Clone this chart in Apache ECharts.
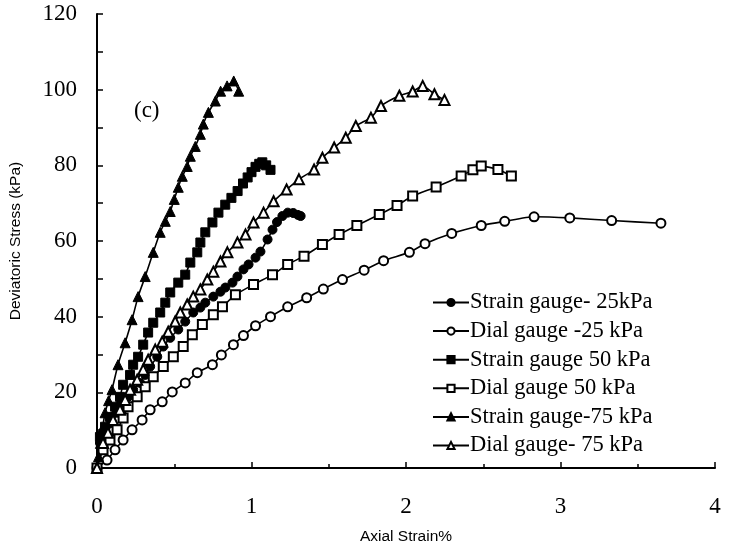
<!DOCTYPE html>
<html>
<head>
<meta charset="utf-8">
<script src="https://cdn.jsdelivr.net/npm/echarts@6/dist/echarts.min.js"></script>
<style>
  html, body { margin: 0; padding: 0; background: #fff; }
  #stress_con { width: 730px; height: 553px; }
</style>
</head>
<body>
<div id="stress_con"></div>
<script>
// axial strain % / deviatoric stress kPa
const seriesNames = ['Strain gauge- 25kPa', 'Dial gauge -25 kPa', 'Strain gauge 50 kPa',
  'Dial gauge 50 kPa', 'Strain gauge-75 kPa', 'Dial gauge- 75 kPa'];

const strain25 = [[0, 0], [0.019, 6.6], [0.052, 9.3], [0.097, 11.9], [0.13, 14.6], [0.169, 17.2],
  [0.201, 18.8], [0.234, 20.7], [0.279, 22.5], [0.312, 24.6], [0.344, 26.8], [0.39, 29.4],
  [0.429, 32.1], [0.474, 34.4], [0.526, 36.6], [0.571, 38.7], [0.623, 41.1], [0.669, 42.4],
  [0.701, 43.7], [0.753, 45.3], [0.799, 46.6], [0.831, 47.7], [0.877, 49.0], [0.909, 50.6],
  [0.948, 52.5], [0.981, 53.8], [1.026, 55.6], [1.058, 57.2], [1.104, 60.4], [1.136, 63.0],
  [1.165, 65.0], [1.2, 66.6], [1.235, 67.5], [1.27, 67.4], [1.3, 66.9], [1.318, 66.6]];

const dial25 = [[0, 0], [0.065, 2.1], [0.117, 4.8], [0.169, 7.4], [0.227, 10.1], [0.292, 12.7],
  [0.344, 15.4], [0.422, 17.5], [0.487, 20.1], [0.571, 22.5], [0.649, 25.2], [0.747, 27.3],
  [0.805, 29.9], [0.883, 32.6], [0.948, 35.0], [1.026, 37.6], [1.123, 40.0], [1.234, 42.6],
  [1.357, 45.0], [1.465, 47.3], [1.589, 49.8], [1.729, 52.3], [1.855, 54.8], [2.022, 57.0],
  [2.123, 59.3], [2.296, 62.0], [2.487, 64.1], [2.639, 65.2], [2.829, 66.4], [3.06, 66.1],
  [3.331, 65.4], [3.65, 64.7]];

const strain50 = [[0, 0], [0.019, 8.2], [0.052, 10.9], [0.084, 13.5], [0.117, 16.2], [0.149, 18.8],
  [0.169, 22.0], [0.214, 24.6], [0.234, 27.3], [0.266, 29.4], [0.299, 32.6], [0.331, 35.8],
  [0.364, 38.4], [0.409, 41.1], [0.442, 43.7], [0.474, 46.4], [0.526, 49.0], [0.571, 51.1],
  [0.604, 54.3], [0.649, 57.0], [0.669, 59.6], [0.701, 62.3], [0.747, 64.9], [0.786, 67.5],
  [0.83, 69.6], [0.87, 71.4], [0.91, 73.2], [0.945, 75.2], [0.975, 76.8], [1.0, 78.2],
  [1.026, 79.6], [1.05, 80.4], [1.07, 80.8], [1.095, 80.0], [1.123, 78.8]];

const dial50 = [[0, 0], [0.039, 4.8], [0.084, 7.4], [0.13, 10.1], [0.169, 13.2], [0.201, 16.2],
  [0.26, 18.8], [0.312, 21.5], [0.364, 24.1], [0.429, 26.8], [0.494, 29.4], [0.558, 32.1],
  [0.617, 35.2], [0.682, 37.9], [0.753, 40.5], [0.812, 42.6], [0.896, 45.8], [1.013, 48.5],
  [1.136, 51.1], [1.234, 53.8], [1.34, 56.0], [1.459, 59.1], [1.567, 61.7], [1.682, 64.1],
  [1.827, 67.0], [1.942, 69.4], [2.043, 71.9], [2.195, 74.3], [2.357, 77.2], [2.433, 78.8],
  [2.487, 79.8], [2.595, 78.9], [2.682, 77.2]];

const strain75 = [[0, 0], [0.01, 3.0], [0.022, 6.5], [0.036, 10.5], [0.052, 14.6], [0.075, 17.8],
  [0.097, 20.7], [0.136, 27.3], [0.182, 33.1], [0.227, 39.2], [0.266, 45.3], [0.312, 50.6],
  [0.364, 57.0], [0.409, 62.3], [0.442, 65.2], [0.474, 67.8], [0.5, 71.0], [0.526, 74.2],
  [0.552, 77.1], [0.584, 79.7], [0.604, 82.4], [0.636, 85.0], [0.669, 88.2], [0.688, 90.9],
  [0.721, 94.0], [0.766, 97.0], [0.8, 99.6], [0.842, 101.0], [0.885, 102.3], [0.917, 99.6]];

const dial75 = [[0, 0], [0.039, 6.6], [0.071, 9.3], [0.104, 12.7], [0.149, 15.4], [0.182, 18.0],
  [0.214, 20.7], [0.26, 23.3], [0.299, 26.0], [0.331, 28.6], [0.377, 31.3], [0.422, 33.4],
  [0.461, 36.0], [0.506, 38.7], [0.539, 41.1], [0.584, 43.2], [0.623, 45.3], [0.669, 47.2],
  [0.714, 49.8], [0.753, 51.9], [0.799, 54.6], [0.844, 57.0], [0.909, 59.6], [0.961, 61.7],
  [1.013, 64.9], [1.078, 67.5], [1.143, 70.5], [1.227, 73.6], [1.307, 76.3], [1.405, 78.9],
  [1.459, 82.0], [1.535, 84.7], [1.61, 87.3], [1.675, 90.4], [1.773, 92.6], [1.838, 95.7],
  [1.957, 98.4], [2.043, 99.5], [2.108, 101.0], [2.184, 98.8], [2.249, 97.3]];

const xTicks = [0, 4, 1];      // min, max, interval
const yTicks = [0, 120, 20];

const chart = echarts.init(document.getElementById('stress_con'));

function makeSeries(name, data, symbol, filled, size) {
  return {
    name: name,
    type: 'line',
    data: data,
    symbol: symbol,
    symbolSize: size,
    showSymbol: true,
    smooth: 0.2,
    lineStyle: { color: '#000', width: 1.6 },
    itemStyle: {
      color: filled ? '#000' : '#fff',
      borderColor: '#000',
      borderWidth: filled ? 1 : 2
    },
    emphasis: { disabled: true }
  };
}

const serif = 'Liberation Serif, Times New Roman, serif';
const sans = 'Liberation Sans, Arial, sans-serif';

const option = {
  animation: false,
  backgroundColor: '#fff',
  title: {
    text: '(c)',
    left: 129,
    top: 94,
    textStyle: { fontFamily: serif, fontSize: 23, fontWeight: 'normal', color: '#000' }
  },
  legend: {
    orient: 'vertical',
    left: 427,
    top: 286,
    itemWidth: 36,
    itemHeight: 9,
    itemGap: 5.6,
    data: seriesNames,
    textStyle: { fontFamily: serif, fontSize: 22.5, lineHeight: 22, color: '#000', padding: [0, 0, 0, -4] }
  },
  grid: {
    left: 97,
    right: 15,
    top: 14,
    bottom: 85
  },
  xAxis: {
    type: 'value',
    min: xTicks[0],
    max: xTicks[1],
    interval: xTicks[2],
    name: 'Axial Strain%',
    nameLocation: 'middle',
    nameGap: 61,
    nameTextStyle: { fontFamily: sans, fontSize: 15.5, color: '#000' },
    axisLine: { lineStyle: { color: '#000', width: 2 } },
    axisTick: { inside: true, length: 6, lineStyle: { color: '#000', width: 1.5 } },
    minorTick: { show: true, splitNumber: 2, length: 4, lineStyle: { color: '#000', width: 1.5 } },
    splitLine: { show: false },
    axisLabel: { margin: 27, fontFamily: serif, fontSize: 23, color: '#000' }
  },
  yAxis: {
    type: 'value',
    min: yTicks[0],
    max: yTicks[1],
    interval: yTicks[2],
    name: 'Deviatoric Stress (kPa)',
    nameLocation: 'middle',
    nameGap: 73,
    nameTextStyle: { fontFamily: sans, fontSize: 15.5, color: '#000' },
    axisLine: { show: true, lineStyle: { color: '#000', width: 2 } },
    axisTick: { show: true, inside: true, length: 6, lineStyle: { color: '#000', width: 1.5 } },
    minorTick: { show: true, splitNumber: 2, length: 6, lineStyle: { color: '#000', width: 1.5 } },
    splitLine: { show: false },
    axisLabel: { margin: 20, fontFamily: serif, fontSize: 23, color: '#000' }
  },
  series: [
    makeSeries(seriesNames[0], strain25, 'circle', true, 9),
    makeSeries(seriesNames[1], dial25, 'circle', false, 9),
    makeSeries(seriesNames[2], strain50, 'rect', true, 9),
    makeSeries(seriesNames[3], dial50, 'rect', false, 9),
    makeSeries(seriesNames[4], strain75, 'triangle', true, 10),
    makeSeries(seriesNames[5], dial75, 'triangle', false, 10)
  ]
};

chart.setOption(option);
</script>
</body>
</html>
